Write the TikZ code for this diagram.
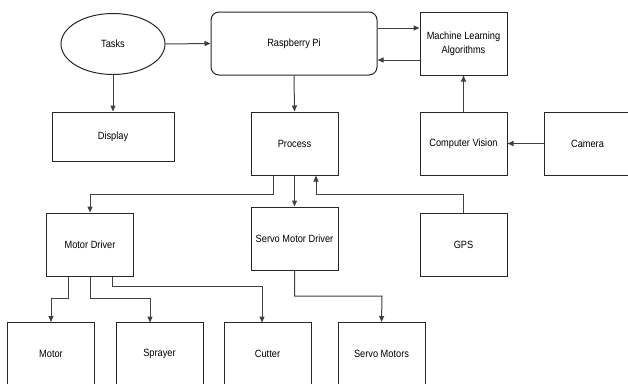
\documentclass[tikz,border=0pt]{standalone}
\usepackage{fontspec}
\setmainfont[FakeStretch=0.88]{Liberation Sans}
\usetikzlibrary{arrows.meta,shapes.geometric}
\begin{document}
\begin{tikzpicture}[x=1pt,y=-1pt,
  box/.style={draw=black!85, line width=1pt, minimum width=87pt, minimum height=63pt, inner sep=0pt, align=center, font=\fontsize{10.5}{14}\selectfont},
  conn/.style={draw=black!75, line width=1pt, -{Triangle[length=6pt,width=5pt]}},
  line/.style={draw=black!75, line width=1pt}]
\useasboundingbox (0,0) rectangle (628,383);
\begin{scope}
\clip (0,0) rectangle (628,383);
\node[box, ellipse, minimum width=104pt, minimum height=61pt] (tasks) at (113,44) {Tasks};
\node[box, rounded corners=8pt, minimum width=166pt] (rpi) at (294,43.5) {Raspberry Pi};
\node[box] (ml) at (463.5,43.5) {Machine Learning\\Algorithms};
\node[box, minimum width=122pt, minimum height=49pt] (disp) at (113,136.5) {Display};
\node[box] (proc) at (294.5,143.5) {Process};
\node[box] (cv) at (463.5,143.5) {Computer Vision};
\node[box] (cam) at (587.5,143.5) {Camera};
\node[box] (md) at (90,244.5) {Motor Driver};
\node[box] (smd) at (294.5,238.5) {Servo Motor Driver};
\node[box] (gps) at (463.5,244.5) {GPS};
\node[box] (motor) at (51,354) {Motor};
\node[box] (spr) at (159.5,354) {Sprayer};
\node[box] (cut) at (267.5,354) {Cutter};
\node[box] (sm) at (381.5,354) {Servo Motors};

\draw[conn] (tasks.east) -- (rpi.west);
\draw[conn] (tasks.south) -- (disp.north);
\draw[conn] ([yshift=15.5pt]rpi.east) -- ([yshift=15.5pt]ml.west);
\draw[conn] ([yshift=-16.5pt]ml.west) -- ([yshift=-16.5pt]rpi.east);
\draw[conn] (rpi.south) -- (proc.north);
\draw[conn] (cam.west) -- (cv.east);
\draw[conn] (cv.north) -- (ml.south);
\draw[conn] ([xshift=-21.5pt]proc.south) |- (90,194) -- (md.north);
\draw[conn] (proc.south) -- (smd.north);
\draw[conn] (gps.north) |- (316,194) -- ([xshift=21.5pt]proc.south);
\draw[conn] ([xshift=-22pt]md.south) |- (51,298) -- (motor.north);
\draw[conn] (md.south) |- (150,298) -- (150,322.5);
\draw[conn] ([xshift=22pt]md.south) |- (262,286) -- (262,322.5);
\draw[conn] (smd.south) |- (382,296) -- (sm.north);
\end{scope}
\end{tikzpicture}
\end{document}
